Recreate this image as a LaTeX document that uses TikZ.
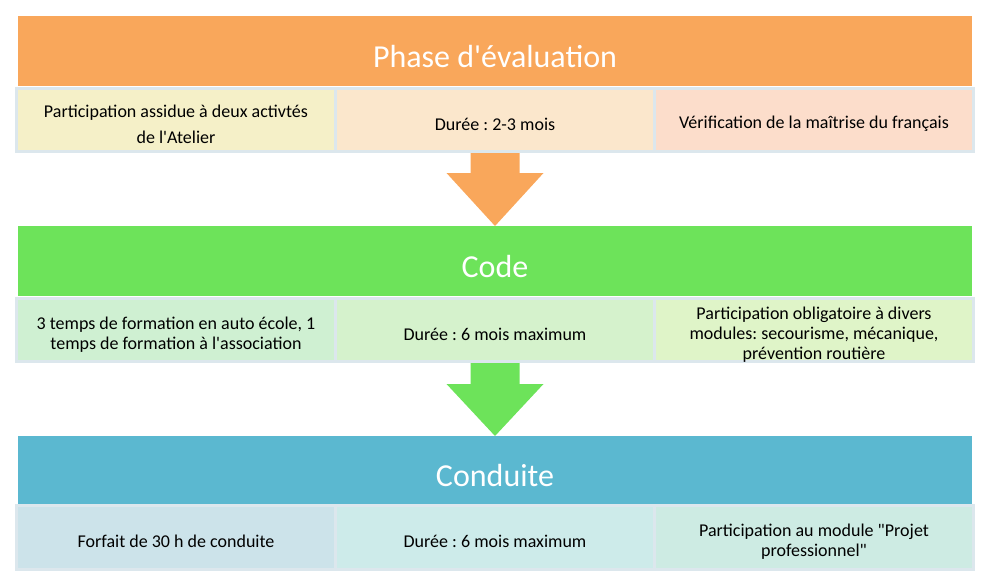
\documentclass[tikz,border=0pt]{standalone}
\usepackage{fontspec}
\newfontfamily\calib{Carlito}
\usetikzlibrary{positioning, calc}

\definecolor{phasecol}{HTML}{F9A75B}
\definecolor{codecol}{HTML}{6DE35A}
\definecolor{condcol}{HTML}{5BB8D0}
\definecolor{boxline}{HTML}{DCE7ED}
\definecolor{pa}{HTML}{F5F0C8}
\definecolor{pb}{HTML}{FBE7CC}
\definecolor{pc}{HTML}{FCDDCB}
\definecolor{ca}{HTML}{CFF0D2}
\definecolor{cb}{HTML}{D5F2CC}
\definecolor{cc}{HTML}{DFF4C8}
\definecolor{da}{HTML}{CCE3EA}
\definecolor{db}{HTML}{CDEBEA}
\definecolor{dc}{HTML}{CDEBE3}

\newcommand{\lift}{\rule{0pt}{21pt}}

\begin{document}
\frenchspacing
\begin{tikzpicture}[x=1pt, y=-1pt]
    \tikzstyle{header} = [text=white, font=\calib\fontsize{32}{36}\selectfont, minimum width=954pt, minimum height=70pt, text height=32pt, text depth=0pt, inner sep=0pt, outer sep=0pt, anchor=north west];
    \tikzstyle{stage} = [draw=boxline, line width=3pt, minimum width=319pt, minimum height=63pt, align=center, inner sep=0pt, outer sep=0pt, font=\calib\fontsize{18}{20}\selectfont];

    \useasboundingbox (0,0) rectangle (992,586);

    % phase d'evaluation
    \node[header, fill=phasecol] at (18,16) (phase) {Phase d'évaluation};
    \node[stage, fill=pa, anchor=north west] at (16.5,88.5) (p1) {\lift Participation assidue à deux activtés\\[6pt]de l'Atelier};
    \node[stage, fill=pb, right = 0pt of p1] (p2) {\lift Durée : 2-3 mois};
    \node[stage, fill=pc, right = 0pt of p2] (p3) {\lift Vérification de la maîtrise du français};

    % code
    \node[header, fill=codecol] at (18,226) (code) {Code};
    \node[stage, fill=ca, anchor=north west] at (16.5,298.5) (c1) {\lift 3 temps de formation en auto école, 1\\temps de formation à l'association};
    \node[stage, fill=cb, right = 0pt of c1] (c2) {\lift Durée : 6 mois maximum};
    \node[stage, fill=cc, right = 0pt of c2] (c3) {\lift Participation obligatoire à divers\\modules: secourisme, mécanique,\\prévention routière};

    % conduite
    \node[header, fill=condcol, minimum height=68pt] at (18,436) (cond) {Conduite};
    \node[stage, fill=da, minimum height=64pt, anchor=north west] at (16.5,505.5) (d1) {\lift Forfait de 30 h de conduite};
    \node[stage, fill=db, minimum height=64pt, right = 0pt of d1] (d2) {\lift Durée : 6 mois maximum};
    \node[stage, fill=dc, minimum height=64pt, right = 0pt of d2] (d3) {\lift Participation au module "Projet\\professionnel"};

    \fill[phasecol] ($(p2.south)+(-24.5,1.5)$) -- ++(0,20) -- ++(-24,0) -- (code.north)
        -- ($(p2.south)+(48.5,21.5)$) -- ++(-24,0) -- ++(0,-20) -- cycle;
    \fill[codecol] ($(c2.south)+(-24.5,1.5)$) -- ++(0,21) -- ++(-24,0) -- (cond.north)
        -- ($(c2.south)+(48.5,22.5)$) -- ++(-24,0) -- ++(0,-21) -- cycle;
\end{tikzpicture}
\end{document}
